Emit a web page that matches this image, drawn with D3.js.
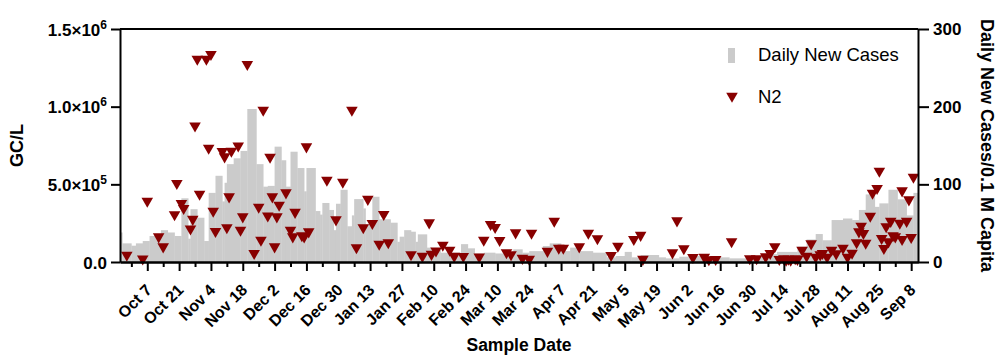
<!DOCTYPE html>
<html>
<head>
<meta charset="utf-8">
<script src="https://cdn.jsdelivr.net/npm/d3@7"></script>
<style>
  body { margin: 0; background: #fff; }
  svg { display: block; font-family: "Liberation Sans", Arial, sans-serif; }
</style>
</head>
<body>
<div id="chart"></div>
<script>
// daily new cases per 0.1 M capita (each bar runs until the next date)
const barDates = [
  "2020-09-25","2020-09-26","2020-09-30","2020-10-02","2020-10-05","2020-10-08","2020-10-13","2020-10-16",
  "2020-10-19","2020-10-22","2020-10-25","2020-10-26","2020-10-29","2020-11-01","2020-11-03","2020-11-06",
  "2020-11-09","2020-11-10","2020-11-11","2020-11-14","2020-11-17","2020-11-20","2020-11-24","2020-11-27",
  "2020-11-29","2020-12-02","2020-12-05","2020-12-07","2020-12-09","2020-12-12","2020-12-15","2020-12-16",
  "2020-12-20","2020-12-22","2020-12-23","2020-12-26","2020-12-28","2020-12-29","2020-12-31","2021-01-03",
  "2021-01-05","2021-01-06","2021-01-10","2021-01-11","2021-01-14","2021-01-17","2021-01-22","2021-01-25",
  "2021-01-26","2021-01-28","2021-01-31","2021-02-02","2021-02-03","2021-02-07","2021-02-09","2021-02-13",
  "2021-02-22","2021-02-25","2021-02-28","2021-03-04","2021-03-09","2021-03-17","2021-03-21","2021-03-24",
  "2021-03-30","2021-04-02","2021-04-07","2021-04-11","2021-04-15","2021-04-21","2021-04-27","2021-05-01",
  "2021-05-05","2021-05-08","2021-05-12","2021-05-20","2021-05-23","2021-05-29","2021-06-02","2021-06-14",
  "2021-06-20","2021-06-28","2021-07-05","2021-07-11","2021-07-20","2021-07-24","2021-07-28","2021-07-31",
  "2021-08-04","2021-08-09","2021-08-13","2021-08-16","2021-08-19","2021-08-23","2021-08-25","2021-08-29",
  "2021-09-02","2021-09-06","2021-09-09"
];
const barValues = [
  38,24,21,24,27,33.5,41,38,
  33.5,82,30,68,57,27,89,111,
  78,102,126,133.5,143,197,126,97,
  98,148.5,131,97,142,121,91,121,
  65.6,61,76,67,41,75,93,46,
  60,81,69,48.5,84,55,50.6,26,
  32.6,41,39,26,35.6,18.5,15.5,12,
  23,17.6,11,12,11,16.3,12,14,
  20.6,24,14,18.5,14,12,6,7.7,
  13,6,9,6,4.7,6.8,7.7,6,
  4.7,7.7,10,13,19.7,29,36,28,
  54,56,54,67,87,71,75.5,93,
  80.7,60,89
];

// N2 gene copies per litre, by sample date
const n2Dates = [
  "2020-09-28","2020-10-05","2020-10-07","2020-10-12","2020-10-14","2020-10-19","2020-10-20","2020-10-22",
  "2020-10-23","2020-10-26","2020-10-27","2020-10-28","2020-10-29","2020-10-30","2020-11-02","2020-11-03",
  "2020-11-04","2020-11-05","2020-11-06","2020-11-09","2020-11-10","2020-11-11","2020-11-12","2020-11-13",
  "2020-11-16","2020-11-17","2020-11-18","2020-11-20","2020-11-23","2020-11-25","2020-11-26","2020-11-27",
  "2020-11-29","2020-11-30","2020-12-01","2020-12-02","2020-12-03","2020-12-04","2020-12-07","2020-12-09",
  "2020-12-10","2020-12-11","2020-12-14","2020-12-15","2020-12-16","2020-12-17","2020-12-25","2020-12-29",
  "2021-01-01","2021-01-05","2021-01-07","2021-01-10","2021-01-12","2021-01-14","2021-01-17","2021-01-19",
  "2021-01-21","2021-01-31","2021-02-05","2021-02-08","2021-02-09","2021-02-11","2021-02-14","2021-02-17",
  "2021-02-19","2021-02-23","2021-03-02","2021-03-04","2021-03-07","2021-03-09","2021-03-11","2021-03-14",
  "2021-03-16","2021-03-18","2021-03-21","2021-03-24","2021-03-25","2021-04-01","2021-04-04","2021-04-06",
  "2021-04-08","2021-04-15","2021-04-19","2021-04-23","2021-04-29","2021-05-02","2021-05-09","2021-05-12",
  "2021-05-13","2021-05-26","2021-05-28","2021-05-31","2021-06-04","2021-06-09","2021-06-11","2021-06-14",
  "2021-06-21","2021-06-29","2021-07-02","2021-07-06","2021-07-08","2021-07-10","2021-07-12","2021-07-14",
  "2021-07-15","2021-07-16","2021-07-17","2021-07-19","2021-07-20","2021-07-22","2021-07-24","2021-07-26",
  "2021-07-28","2021-07-30","2021-07-31","2021-08-02","2021-08-04","2021-08-06","2021-08-09","2021-08-11",
  "2021-08-13","2021-08-15","2021-08-16","2021-08-17","2021-08-18","2021-08-19","2021-08-21","2021-08-22",
  "2021-08-24","2021-08-25","2021-08-26","2021-08-27","2021-08-28","2021-08-29","2021-08-30","2021-08-31",
  "2021-09-01","2021-09-03","2021-09-04","2021-09-04","2021-09-06","2021-09-07","2021-09-08","2021-09-09"
];
const n2Values = [
  45000,20600,392700,162900,98500,305800,506700,377900,
  345700,213700,275500,876900,1306900,437800,1306900,733900,
  1337100,328300,197600,712700,677900,222100,420400,714600,
  748100,206000,291600,1272800,56000,354100,141600,978600,
  297400,676000,420400,98500,291600,367000,446100,206000,
  162900,320600,170600,162900,742300,195100,527900,272300,
  515000,978600,93400,222100,404300,249100,115900,307100,
  124300,48300,37300,253000,50200,72100,108200,77300,
  37300,36700,33500,141600,242700,223400,139700,61200,
  48300,188600,24500,18000,186700,69500,264000,90100,
  90100,98500,186700,151300,43100,103000,146100,172500,
  18000,59900,265900,86900,30300,32200,16100,17400,
  132000,22500,22500,34100,56000,99800,17400,22500,
  12900,19300,12900,22500,17400,77300,38600,117800,
  32200,47000,56000,32200,77300,53400,90100,32200,
  57900,125500,195100,231800,184800,122300,296100,444200,
  474500,585900,152600,88200,227300,130700,262700,170600,
  162900,251100,459000,146100,262700,401100,159000,547200
];

const xDomain = ["2020-09-25", "2021-09-11"];
const xTickDates = [
  "2020-10-07","2020-10-21","2020-11-04","2020-11-18","2020-12-02","2020-12-16","2020-12-30",
  "2021-01-13","2021-01-27","2021-02-10","2021-02-24","2021-03-10","2021-03-24","2021-04-07",
  "2021-04-21","2021-05-05","2021-05-19","2021-06-02","2021-06-16","2021-06-30","2021-07-14",
  "2021-07-28","2021-08-11","2021-08-25","2021-09-08"
];
const leftTicks = [0, 500000, 1000000, 1500000];
const leftTickBase = ["0.0", "5.0×10", "1.0×10", "1.5×10"];
const leftTickExp = ["", "5", "6", "6"];
const rightTicks = [0, 100, 200, 300];
const seriesNames = ["Daily New Cases", "N2"];

const width = 996, height = 357;
const margin = { top: 29, right: 78, bottom: 95, left: 120 };
const parse = d3.timeParse("%Y-%m-%d");
const fmt = d3.timeFormat("%b %-d");
const barColor = "#cbcbcb";
const dotColor = "#880000";

const svg = d3.select("#chart").append("svg")
  .attr("width", width)
  .attr("height", height);

const x = d3.scaleTime()
  .domain(xDomain.map(parse))
  .range([margin.left, width - margin.right]);
const yL = d3.scaleLinear()
  .domain([0, 1500000])
  .range([height - margin.bottom, margin.top]);
const yR = d3.scaleLinear()
  .domain([0, 300])
  .range([height - margin.bottom, margin.top]);

// bars
const bars = barDates.map((d, i) => ({
  start: parse(d),
  end: i < barDates.length - 1 ? parse(barDates[i + 1]) : parse(xDomain[1]),
  value: barValues[i]
}));
svg.append("g")
  .selectAll("rect")
  .data(bars)
  .enter()
  .append("rect")
  .attr("x", d => x(d.start))
  .attr("width", d => x(d.end) - x(d.start) + 0.3)
  .attr("y", d => yR(d.value))
  .attr("height", d => yR(0) - yR(d.value))
  .attr("fill", barColor);

// triangles
const tri = d3.symbol().type(d3.symbolTriangle).size(58);
svg.append("g")
  .selectAll("path")
  .data(n2Dates.map((d, i) => ({ date: parse(d), value: n2Values[i] })))
  .enter()
  .append("path")
  .attr("d", tri)
  .attr("transform", d => "translate(" + x(d.date) + "," + yL(d.value) + ") rotate(180)")
  .attr("fill", dotColor);

// axes
const majors = xTickDates.map(parse);
const minors = majors.map(d => d3.timeDay.offset(d, -7));

const styleAxis = g => {
  g.select(".domain").attr("stroke", "#000").attr("stroke-width", 2);
  g.selectAll(".tick line").attr("stroke", "#000").attr("stroke-width", 2);
};

svg.append("g")
  .attr("transform", "translate(0," + yL(0) + ")")
  .call(d3.axisBottom(x).tickValues(minors).tickSize(5).tickSizeOuter(0).tickFormat(""))
  .call(styleAxis);

const xAxis = svg.append("g")
  .attr("transform", "translate(0," + yL(0) + ")")
  .call(d3.axisBottom(x).tickValues(majors).tickSize(9).tickSizeOuter(0).tickFormat(fmt))
  .call(styleAxis);
xAxis.selectAll("text")
  .attr("font-size", 16)
  .attr("font-weight", "bold")
  .attr("fill", "#000")
  .attr("text-anchor", "end")
  .attr("y", 0)
  .attr("dy", "0.35em")
  .attr("transform", "translate(1,25) rotate(-45)");

const yAxisL = svg.append("g")
  .attr("transform", "translate(" + margin.left + ",0)")
  .call(d3.axisLeft(yL).tickValues(leftTicks).tickSize(9).tickSizeOuter(0).tickFormat(""))
  .call(styleAxis);
yAxisL.selectAll(".tick").each(function(d, i) {
  const t = d3.select(this).append("text")
    .attr("x", -13)
    .attr("y", 6)
    .attr("text-anchor", "end")
    .attr("font-size", 17)
    .attr("font-weight", "bold")
    .attr("fill", "#000");
  t.append("tspan").text(leftTickBase[i]);
  if (leftTickExp[i]) {
    t.append("tspan").attr("dy", -7).attr("font-size", 12).text(leftTickExp[i]);
  }
});

svg.append("g")
  .attr("transform", "translate(" + (width - margin.right) + ",0)")
  .call(d3.axisRight(yR).tickValues(rightTicks).tickSize(11).tickSizeOuter(0))
  .call(styleAxis)
  .selectAll("text")
  .attr("x", 15)
  .attr("font-size", 17)
  .attr("font-weight", "bold")
  .attr("fill", "#000");

// top frame line
svg.append("line")
  .attr("x1", margin.left)
  .attr("x2", width - margin.right)
  .attr("y1", margin.top)
  .attr("y2", margin.top)
  .attr("stroke", "#000")
  .attr("stroke-width", 2);

// axis titles
svg.append("text")
  .attr("transform", "translate(23," + ((yL(0) + margin.top) / 2) + ") rotate(-90)")
  .attr("text-anchor", "middle")
  .attr("font-size", 18)
  .attr("font-weight", "bold")
  .text("GC/L");

svg.append("text")
  .attr("transform", "translate(981," + ((yL(0) + margin.top) / 2) + ") rotate(90)")
  .attr("text-anchor", "middle")
  .attr("font-size", 18)
  .attr("font-weight", "bold")
  .text("Daily New Cases/0.1 M Capita");

svg.append("text")
  .attr("x", (margin.left + width - margin.right) / 2)
  .attr("y", 351)
  .attr("text-anchor", "middle")
  .attr("font-size", 17.5)
  .attr("font-weight", "bold")
  .text("Sample Date");

// legend
const legend = svg.append("g");
legend.append("rect")
  .attr("x", 728).attr("y", 48)
  .attr("width", 7).attr("height", 15)
  .attr("fill", barColor);
legend.append("path")
  .attr("d", tri)
  .attr("transform", "translate(732,96) rotate(180)")
  .attr("fill", dotColor);
legend.selectAll("text")
  .data(seriesNames)
  .enter()
  .append("text")
  .attr("x", 758)
  .attr("y", (d, i) => i === 0 ? 61 : 103)
  .attr("font-size", 18.5)
  .text(d => d);
</script>
</body>
</html>
